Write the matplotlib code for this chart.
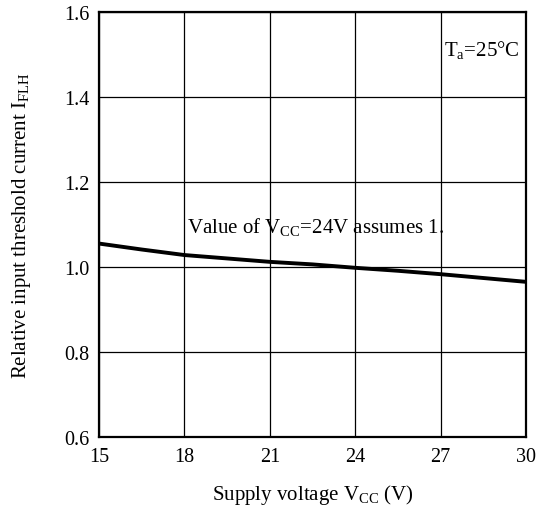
import numpy as np
import matplotlib.pyplot as plt

plt.rcParams['font.family'] = 'Liberation Serif'
plt.rcParams['mathtext.fontset'] = 'custom'
plt.rcParams['mathtext.rm'] = 'Liberation Serif'
plt.rcParams['mathtext.it'] = 'Liberation Serif:italic'

# supply voltage (V) and relative threshold current
vcc = [15, 16.5, 18, 19.5, 21, 22.5, 24, 25.5, 27, 28.5, 30]
rel_i = [1.055, 1.041, 1.028, 1.020, 1.012, 1.006, 0.998, 0.991, 0.983, 0.974, 0.965]

x_ticks = [15, 18, 21, 24, 27, 30]
y_ticks = [0.6, 0.8, 1.0, 1.2, 1.4, 1.6]

fig = plt.figure(figsize=(5.44, 5.10), dpi=100)
ax = fig.add_axes([0.182, 0.141, 0.785, 0.834])

ax.plot(vcc, rel_i, color="black", linewidth=2.8)

ax.set_xlim(15, 30)
ax.set_ylim(0.6, 1.6)
ax.set_xticks(x_ticks)
ax.set_yticks(y_ticks)
ax.set_xticklabels([str(t) for t in x_ticks])
ax.set_yticklabels(["%.1f" % t for t in y_ticks])
ax.tick_params(length=0, labelsize=14.5, pad=7)
ax.grid(True, color="black", linewidth=0.9)
for s in ax.spines.values():
    s.set_linewidth(1.6)

ax.set_xlabel(r"Supply voltage V$_{\mathrm{CC}}$ (V)", fontsize=15, labelpad=12)
ax.set_ylabel(r"Relative input threshold current I$_{\mathrm{FLH}}$", fontsize=15, labelpad=22)

ax.text(0.506, 0.496, r"Value of V$_{\mathrm{CC}}$=24V assumes 1.", transform=ax.transAxes,
        fontsize=15, ha="center", va="center")
ax.text(0.986, 0.913, r"T$_{\mathrm{a}}$=25°C", transform=ax.transAxes,
        fontsize=15, ha="right", va="center")

plt.savefig("out.png", dpi=100)
